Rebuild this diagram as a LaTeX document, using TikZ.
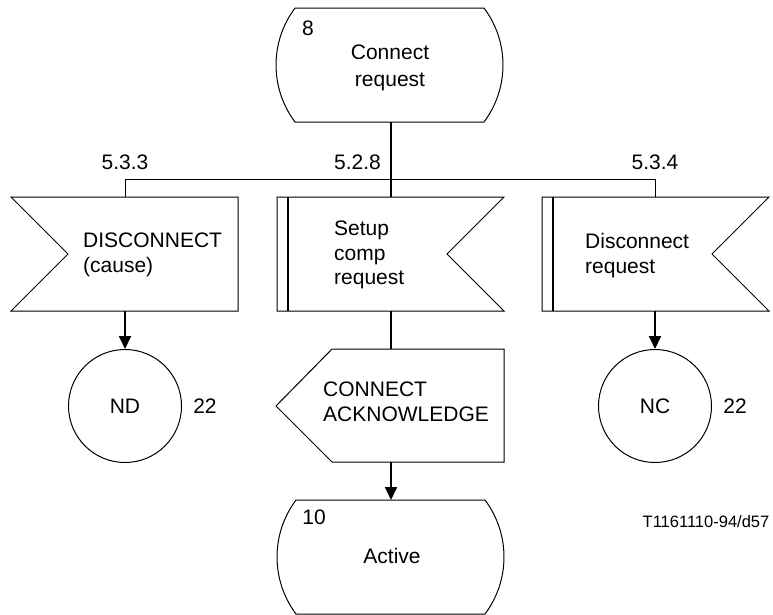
\documentclass[tikz,border=0pt]{standalone}
\usepackage{fontspec}
\setmainfont{Liberation Sans}
\usetikzlibrary{arrows.meta}
\begin{document}
\begin{tikzpicture}[x=1pt,y=-1pt,
  txt/.style={inner sep=0pt,font=\fontsize{21}{24.8}\selectfont},
  mtxt/.style={txt,align=left,anchor=west},
  shapeline/.style={draw=black,line width=1pt,line join=miter},
  thinline/.style={draw=black,line width=1pt},
  flowline/.style={draw=black,line width=1.8pt},
  arrowline/.style={flowline,-{Triangle[width=12pt,length=13pt]}},
  bar/.style={draw=black,line width=2pt},
  statecirc/.style={circle,draw=black,line width=1pt,minimum size=113pt,inner sep=0pt,font=\fontsize{21}{24.8}\selectfont}]
\useasboundingbox (0,0) rectangle (773,614);

% state "8 Connect request"
\draw[shapeline] (295,8) -- (484,8) .. controls (509.3,41.8) and (509.3,88.2) .. (484,122)
  -- (295,122) .. controls (269.7,88.2) and (269.7,41.8) .. (295,8) -- cycle;
\coordinate (s8bot) at (391,122);
\node[txt] (s8num) at (308,28) {8};
\node[txt,align=center,font=\fontsize{21}{26.5}\selectfont] (s8txt) at (390,68) {Connect\\request};

% bus
\coordinate (busL) at (125,179);
\coordinate (busM) at (391,179);
\coordinate (busR) at (655,179);
\node[txt] (l533) at (125,162) {5.3.3};
\node[txt,anchor=east] (l528) at (381,162) {5.2.8};
\node[txt] (l534) at (655,162) {5.3.4};

% input DISCONNECT (cause)
\draw[shapeline] (11,197) -- (238,197) -- (238,311) -- (11,311) -- (68,254) -- cycle;
\coordinate (inLtop) at (125,197);
\coordinate (inLbot) at (125,311);
\node[mtxt] (inLtxt) at (83,255) {DISCONNECT\\(cause)};

% priority input Setup comp request
\draw[shapeline] (277,197) -- (504,197) -- (447,254) -- (504,311) -- (277,311) -- cycle;
\draw[bar] (288,197) -- (288,311);
\coordinate (inMtop) at (391,197);
\coordinate (inMbot) at (391,311);
\node[mtxt] (inMtxt) at (334,255) {Setup\\comp\\request};

% priority input Disconnect request
\draw[shapeline] (542,197) -- (769,197) -- (712,254) -- (769,311) -- (542,311) -- cycle;
\draw[bar] (553,197) -- (553,311);
\coordinate (inRtop) at (655,197);
\coordinate (inRbot) at (655,311);
\node[mtxt] (inRtxt) at (585,255.5) {Disconnect\\request};

% output CONNECT ACKNOWLEDGE
\draw[shapeline] (332,349) -- (504,349) -- (504,462) -- (332,462) -- (276,406) -- cycle;
\coordinate (outtop) at (391,349);
\coordinate (outbot) at (391,462);
\node[mtxt] (outtxt) at (323,401.5) {CONNECT\\ACKNOWLEDGE};

% circles
\node[statecirc] (nd) at (125,406) {ND};
\node[txt] (nd22) at (205,406) {22};
\node[statecirc] (nc) at (655,406) {NC};
\node[txt] (nc22) at (735,406) {22};

% state "10 Active"
\draw[shapeline] (296,500) -- (485,500) .. controls (510.3,533.8) and (510.3,580.2) .. (485,614)
  -- (296,614) .. controls (270.7,580.2) and (270.7,533.8) .. (296,500) -- cycle;
\coordinate (s10top) at (391,500);
\node[txt] (s10num) at (314,517) {10};
\node[txt] (s10txt) at (392,556) {Active};

\node[txt,font=\fontsize{16.5}{19}\selectfont] (ref) at (706,522) {T1161110-94/d57};

% connectors
\draw[flowline] (s8bot) -- (inMtop);
\draw[thinline] (inLtop) -- (busL) -- (busR) -- (inRtop);
\draw[arrowline] (inLbot) -- (nd.north);
\draw[arrowline] (inRbot) -- (nc.north);
\draw[flowline] (inMbot) -- (outtop);
\draw[arrowline] (outbot) -- (s10top);
\end{tikzpicture}
\end{document}
